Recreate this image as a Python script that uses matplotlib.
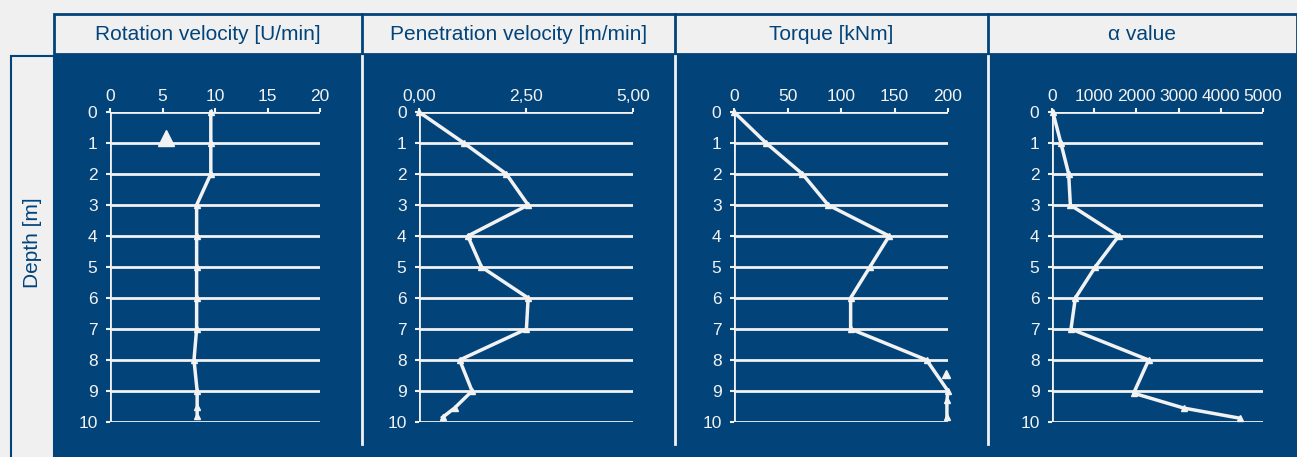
import numpy as np
import matplotlib.pyplot as plt
from matplotlib.patches import Rectangle
from matplotlib.lines import Line2D

plt.rcParams['font.family'] = ['Liberation Sans', 'DejaVu Sans']

blue = '#02447a'
grey = '#f0f0f0'
white = '#f2f2f2'

# data
rot_depth = [0, 1, 2, 3, 4, 5, 6, 7, 8, 9, 9.5, 9.8]
rot_vals = [9.6, 9.6, 9.6, 8.25, 8.25, 8.25, 8.25, 8.25, 8.0, 8.3, 8.3, 8.3]
rot_extra = (5.3, 0.85)

pen_depth = [0, 1, 2, 3, 4, 5, 6, 7, 8, 9, 9.55, 9.85]
pen_vals = [0.0, 1.05, 2.04, 2.55, 1.14, 1.46, 2.55, 2.51, 0.95, 1.24, 0.83, 0.55]

tq_depth = [0, 1, 2, 3, 4, 5, 6, 7, 8, 9, 9.3, 9.85]
tq_vals = [0, 30, 64, 88, 145, 127, 109, 109, 180, 200, 199, 199]
tq_extra = (198, 8.45)

al_depth = [0, 1, 2, 3, 4, 5, 6, 7, 8, 9.07, 9.55, 9.88]
al_vals = [20, 210, 395, 435, 1580, 1025, 553, 450, 2290, 1935, 3120, 4460]

titles = ['Rotation velocity [U/min]', 'Penetration velocity [m/min]',
          'Torque [kNm]', '\u03b1 value']
xlims = [(0, 20), (0, 5), (0, 200), (0, 5000)]
xticks = [[0, 5, 10, 15, 20], [0, 2.5, 5], [0, 50, 100, 150, 200],
          [0, 1000, 2000, 3000, 4000, 5000]]
xticklabels = [['0', '5', '10', '15', '20'], ['0,00', '2,50', '5,00'],
               ['0', '50', '100', '150', '200'],
               ['0', '1000', '2000', '3000', '4000', '5000']]
series = [(rot_vals, rot_depth, rot_extra), (pen_vals, pen_depth, None),
          (tq_vals, tq_depth, tq_extra), (al_vals, al_depth, None)]

W, H = 1297, 457
fig = plt.figure(figsize=(W / 100, H / 100), dpi=100)
fig.patch.set_facecolor(grey)


def fx(px):
    return px / W


def fy(py):
    return 1 - py / H


# background blocks
fig.patches.append(Rectangle((fx(54), 0), fx(W - 54), fy(54), transform=fig.transFigure,
                             facecolor=blue, edgecolor='none', zorder=-5))
fig.patches.append(Rectangle((fx(54), fy(54)), fx(W - 54), 40 / H, transform=fig.transFigure,
                             facecolor=grey, edgecolor=blue, lw=2, zorder=-5))
fig.patches.append(Rectangle((fx(11), -0.01), fx(43), fy(56) + 0.01, transform=fig.transFigure,
                             facecolor=grey, edgecolor=blue, lw=1.5, zorder=-5))
fig.text(fx(33), fy(243), 'Depth [m]', rotation=90, ha='center', va='center',
         color=blue, fontsize=15)

sep = [54, 362, 675, 988, W]
for i in range(4):
    if i > 0:
        fig.add_artist(Line2D([fx(sep[i]), fx(sep[i])], [fy(54), fy(14)], color=blue, lw=2))
        fig.add_artist(Line2D([fx(sep[i]), fx(sep[i])], [fy(56), fy(444)], color=white, lw=2))
    fig.text(fx((sep[i] + sep[i + 1]) / 2), fy(35), titles[i], ha='center', va='center',
             color=blue, fontsize=15)

# axes areas in pixels (left, right)
xpix = [(110, 320), (419, 633), (734, 948), (1052, 1263)]
top, bottom = 112, 422

for i in range(4):
    x0, x1 = xpix[i]
    ax = fig.add_axes([fx(x0), fy(bottom), fx(x1 - x0), (bottom - top) / H])
    ax.set_facecolor('none')
    for s in ax.spines.values():
        s.set_visible(False)
    ax.set_xlim(*xlims[i])
    ax.set_ylim(10, 0)
    ax.set_yticks(range(11))
    ax.xaxis.tick_top()
    ax.set_xticks(xticks[i])
    ax.set_xticklabels(xticklabels[i])
    ax.tick_params(colors=white, labelsize=12.5, length=3, width=1.5, pad=3)
    ax.tick_params(axis='y', pad=6)
    for d in range(11):
        ax.axhline(d, color=white, lw=2, zorder=1)
    ax.axvline(0, color=white, lw=2, zorder=1)

    vals, dep, extra = series[i]
    ax.plot(vals, dep, color=white, lw=2.5, marker='^', markersize=5,
            zorder=3, clip_on=False)
    if extra is not None:
        ax.plot([extra[0]], [extra[1]], marker='^', color=white,
                markersize=11 if i == 0 else 6, zorder=3, clip_on=False)

fig.savefig('out.png', dpi=100, facecolor=grey)
